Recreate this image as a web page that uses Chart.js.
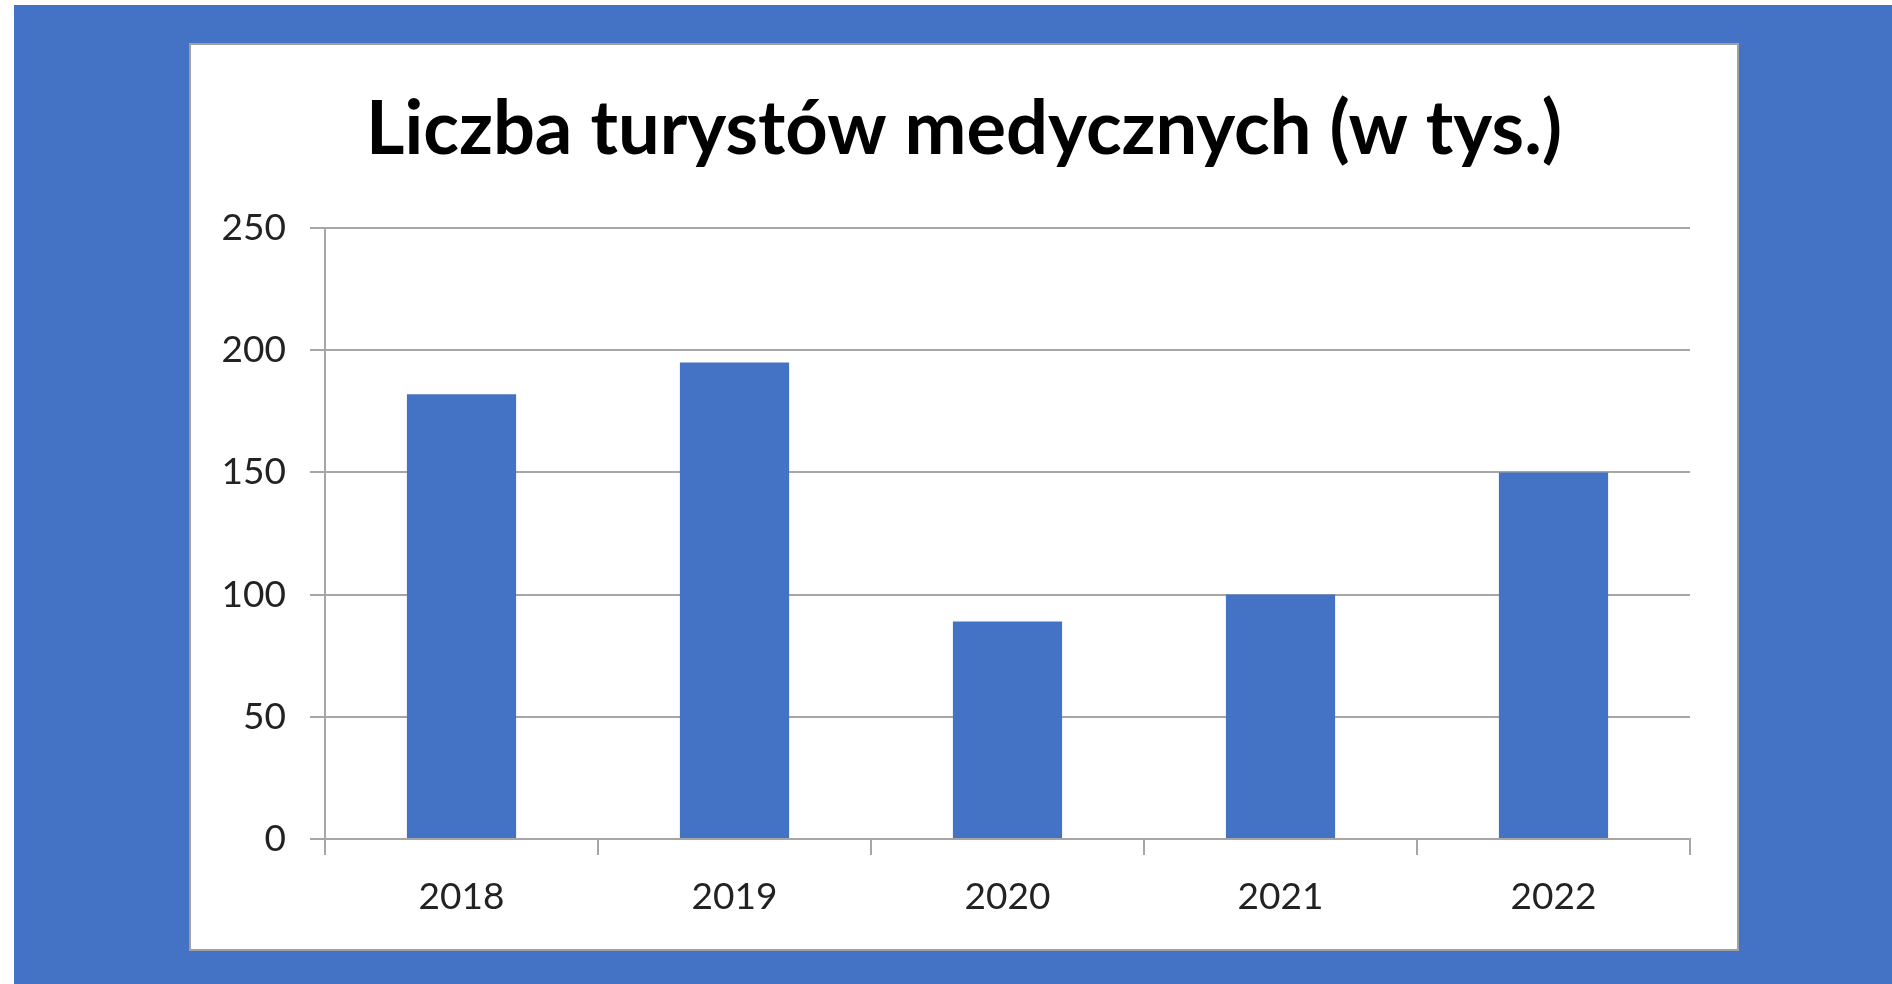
<!DOCTYPE html>
<html>
<head>
<meta charset="utf-8">
<script src="https://cdn.jsdelivr.net/npm/chart.js@4"></script>
<style>
  body { margin: 0; background: #fff; }
  canvas { display: block; }
</style>
</head>
<body>
<canvas id="chart" width="1892" height="984"></canvas>
<script>
const title = 'Liczba turystów medycznych (w tys.)';
const years = ['2018', '2019', '2020', '2021', '2022'];
const tourists = [182, 195, 89, 100, 150];
const yTicks = [0, 50, 100, 150, 200, 250];

const blue = '#4472C4';
const gridGray = '#a6a6a6';
const font = 'Lato, "Open Sans", sans-serif';

// slide background, white chart box and the title
const frame = {
    id: 'frame',
    beforeDraw(chart) {
        const ctx = chart.ctx;
        ctx.save();
        ctx.fillStyle = '#fff';
        ctx.fillRect(0, 0, chart.width, chart.height);
        ctx.fillStyle = blue;
        ctx.fillRect(14, 5, chart.width - 14, chart.height - 5);
        ctx.fillStyle = '#fff';
        ctx.fillRect(190, 44, 1548, 906);
        ctx.strokeStyle = '#a0a0a0';
        ctx.lineWidth = 2;
        ctx.strokeRect(190, 44, 1548, 906);
        ctx.fillStyle = '#000';
        ctx.font = 'bold 74px ' + font;
        ctx.textAlign = 'center';
        ctx.textBaseline = 'alphabetic';
        ctx.fillText(title, 964, 154);
        ctx.restore();
    }
};

new Chart(document.getElementById('chart'), {
    type: 'bar',
    data: {
        labels: years,
        datasets: [{
            data: tourists,
            backgroundColor: blue,
            barPercentage: 0.4,
            categoryPercentage: 1
        }]
    },
    options: {
        responsive: false,
        animation: false,
        devicePixelRatio: 1,
        layout: { padding: { left: 190, right: 202, top: 228, bottom: 34 } },
        plugins: {
            legend: { display: false },
            title: { display: false },
            tooltip: { enabled: false }
        },
        scales: {
            x: {
                grid: {
                    offset: true,
                    drawOnChartArea: false,
                    drawTicks: true,
                    tickLength: 16,
                    color: gridGray,
                    lineWidth: 2
                },
                border: { color: gridGray, width: 2 },
                ticks: { color: '#222', font: { family: font, size: 37 }, padding: 20 },
                afterFit(scale) { scale.height = 111; }
            },
            y: {
                min: 0,
                max: 250,
                afterBuildTicks(scale) { scale.ticks = yTicks.map(v => ({ value: v })); },
                grid: { color: gridGray, lineWidth: 2, tickLength: 15 },
                border: { color: gridGray, width: 2 },
                ticks: { color: '#222', font: { family: font, size: 37 }, padding: 24 },
                afterFit(scale) { scale.width = 135; }
            }
        }
    },
    plugins: [frame]
});
</script>
</body>
</html>
